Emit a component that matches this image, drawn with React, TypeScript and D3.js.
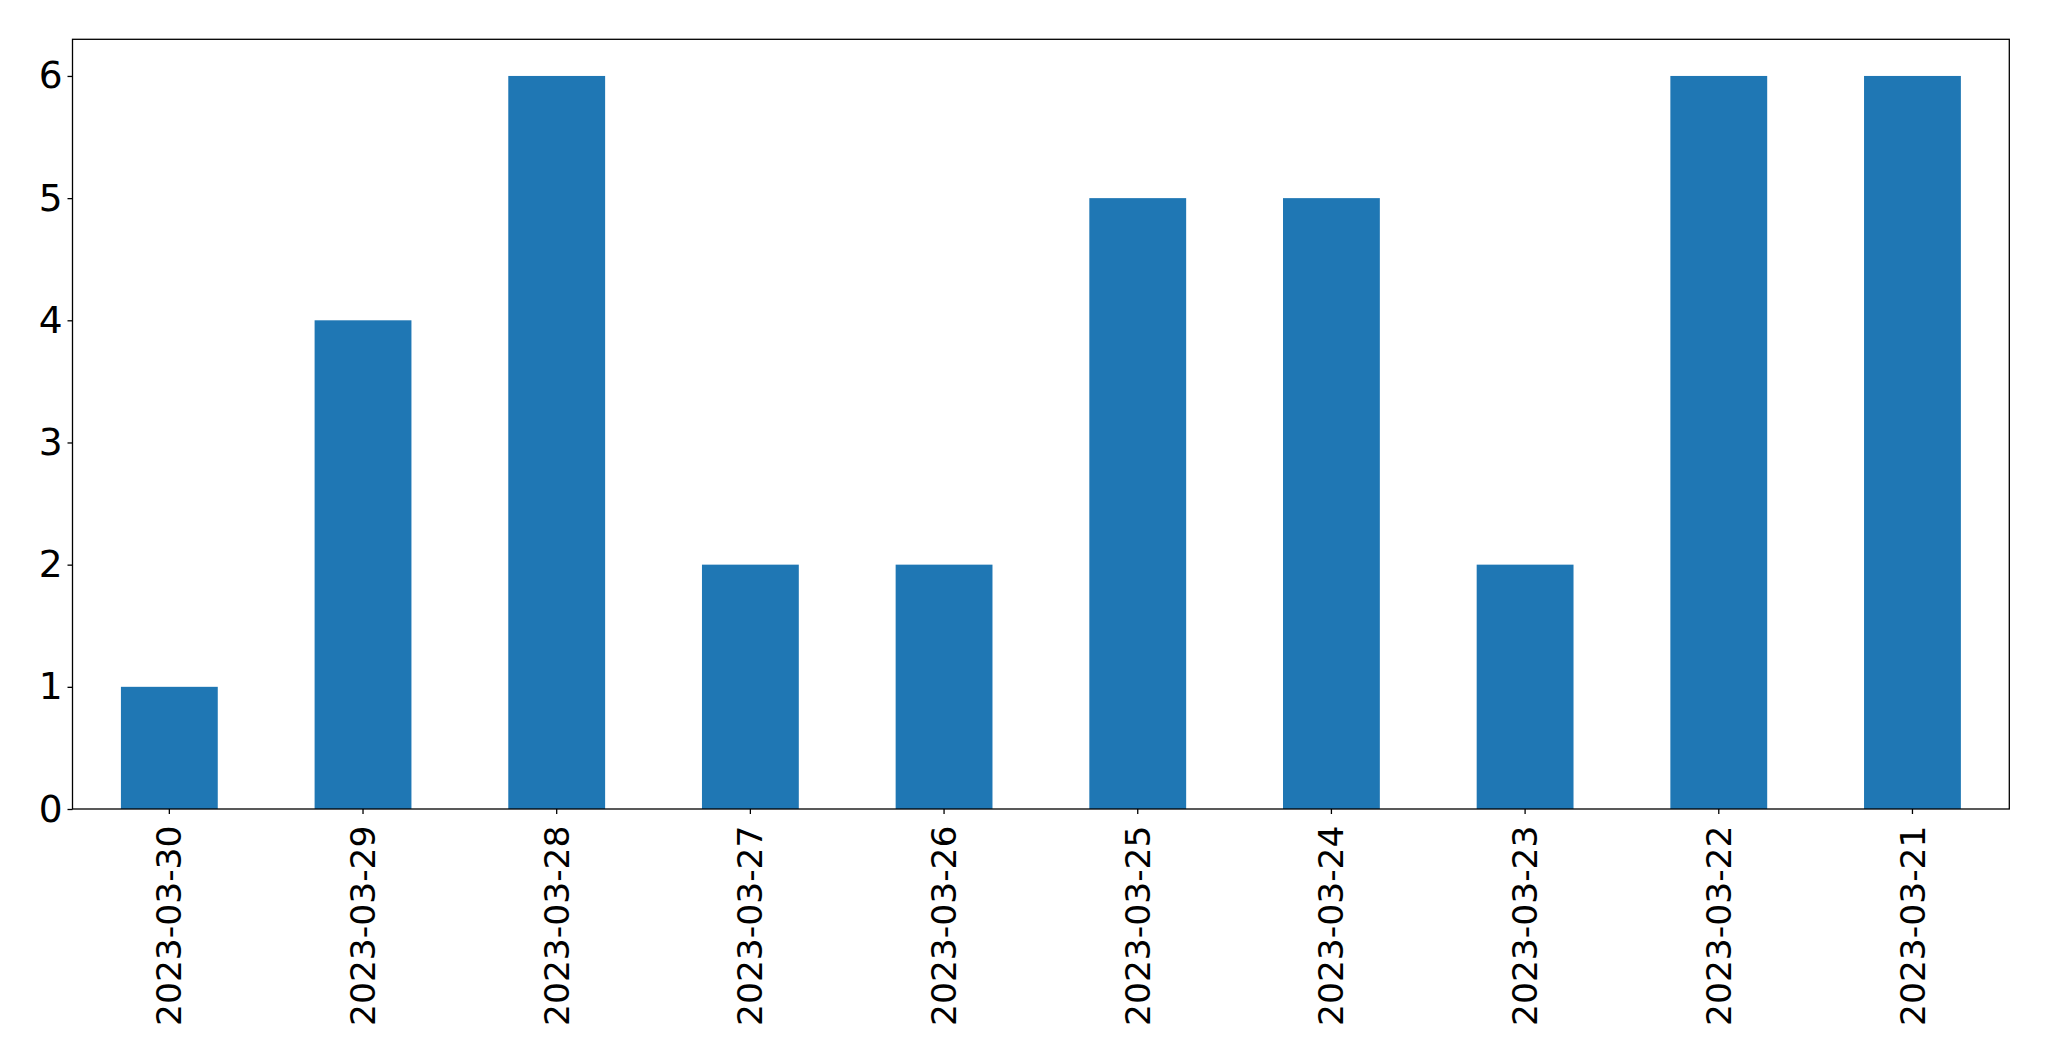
import React, { useRef, useEffect } from 'react'
import { select, scaleBand, scaleLinear, axisLeft, axisBottom } from 'd3'

const dates = ['2023-03-30', '2023-03-29', '2023-03-28', '2023-03-27', '2023-03-26', '2023-03-25', '2023-03-24', '2023-03-23', '2023-03-22', '2023-03-21']
const counts = [1, 4, 6, 2, 2, 5, 5, 2, 6, 6]
const yTicks = [0, 1, 2, 3, 4, 5, 6]

const W = 2049
const H = 1061
const margin = { left: 72.5, right: 2049 - 2009.3, top: 39.3, bottom: 1061 - 809 }

function App() {
    const svgRef = useRef<SVGSVGElement>(null)

    useEffect(() => {
        const svg = select(svgRef.current)
        svg.selectAll('*').remove()

        const x = scaleBand().domain(dates).range([margin.left, W - margin.right]).paddingInner(0.5).paddingOuter(0.25)
        const y = scaleLinear().domain([0, 6.3]).range([H - margin.bottom, margin.top])

        svg.selectAll('.bar').data(counts).join('rect').attr('class', 'bar')
            .attr('x', (d, i) => x(dates[i]) as number)
            .attr('width', x.bandwidth())
            .attr('y', d => y(d))
            .attr('height', d => y(0) - y(d))
            .attr('fill', '#1f77b4')

        // frame
        svg.append('rect')
            .attr('x', margin.left).attr('y', margin.top)
            .attr('width', W - margin.right - margin.left)
            .attr('height', H - margin.bottom - margin.top)
            .attr('fill', 'none').attr('stroke', 'black').attr('stroke-width', 1.3)

        const yAxis = svg.append('g')
            .attr('transform', `translate(${margin.left},0)`)
            .call(axisLeft(y).tickValues(yTicks).tickSize(5).tickPadding(5).tickFormat(d => String(d)))
        yAxis.select('.domain').remove()
        yAxis.selectAll('line').attr('stroke', 'black').attr('stroke-width', 1.3)
        yAxis.selectAll('text').attr('font-size', 37.5).attr('fill', 'black')
            .attr('font-family', 'DejaVu Sans')

        const xAxis = svg.append('g')
            .attr('transform', `translate(0,${H - margin.bottom})`)
            .call(axisBottom(x).tickSize(5))
        xAxis.select('.domain').remove()
        xAxis.selectAll('line').attr('stroke', 'black').attr('stroke-width', 1.3)
        xAxis.selectAll('text')
            .attr('font-size', 34.5).attr('fill', 'black').attr('font-family', 'DejaVu Sans')
            .attr('transform', 'rotate(-90)')
            .attr('x', -16.5).attr('y', 0).attr('dy', '0.35em')
            .attr('text-anchor', 'end')
    }, [])

    return <svg ref={svgRef} width={W} height={H} style={{ position: 'absolute', left: 0, top: 0, background: 'white' }}></svg>
}

export default App
